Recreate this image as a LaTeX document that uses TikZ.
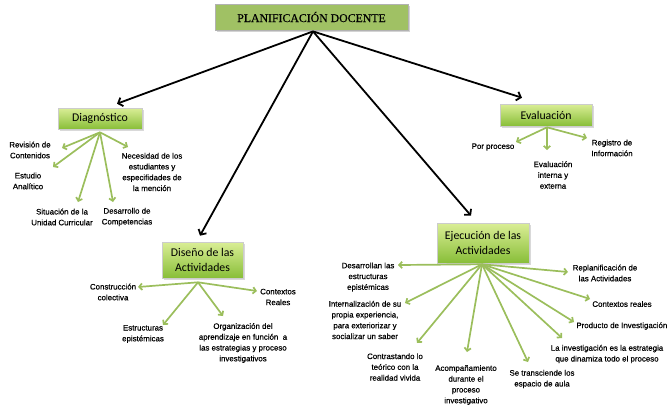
\documentclass[tikz,border=0pt]{standalone}
\usepackage{fontspec}
\setmainfont{Liberation Serif}[FakeBold=0.6]
\newfontfamily\boxfont{Carlito}
\newfontfamily\labfont{Liberation Sans}[FakeBold=0.5]
\usetikzlibrary{arrows.meta,shadows,calc}

\definecolor{leafgreen}{RGB}{155,190,92}
\definecolor{boxtop}{RGB}{218,238,150}
\definecolor{boxbot}{RGB}{136,190,56}
\definecolor{titlefill}{RGB}{160,193,100}

\tikzset{
  titlebox/.style={draw=black!30, line width=0.8pt, fill=titlefill,
    minimum width=193pt, minimum height=26pt, inner sep=0pt,
    font=\fontsize{11.8}{12}\selectfont,
    drop shadow={shadow xshift=1.5pt, shadow yshift=-1.5pt, opacity=0.35}},
  topicbox/.style={draw=white!80!black, line width=0.6pt,
    top color=boxtop, bottom color=boxbot, inner sep=0pt, align=center,
    font=\boxfont\fontsize{11.8}{15}\selectfont,
    drop shadow={shadow xshift=1.5pt, shadow yshift=-1.5pt, opacity=0.3}},
  leaf/.style={align=center, inner sep=0pt,
    font=\labfont\fontsize{7.9}{10.8}\selectfont},
  mainarrow/.style={draw=black, line width=1.8pt,
    -{Straight Barb[length=4pt,width=9pt]}},
  twig/.style={draw=leafgreen, line width=1.7pt,
    -{Straight Barb[length=3pt,width=6.5pt]}}
}

\begin{document}
\begin{tikzpicture}[x=1pt,y=-1pt]
\useasboundingbox (0,0) rectangle (669,410);

% central theme and the four stages
\node[titlebox] (title) at (311.5,17) {PLANIFICACIÓN DOCENTE};
\node[topicbox, minimum width=84pt, minimum height=21pt] (diag) at (100,118.5) {Diagnóstico};
\node[topicbox, minimum width=92pt, minimum height=22pt] (eval) at (546,115) {Evaluación};
\node[topicbox, minimum width=81pt, minimum height=36pt] (dis) at (202.5,260) {Diseño de las\\Actividades};
\node[topicbox, minimum width=92pt, minimum height=40pt] (ejec) at (483,243) {Ejecución de las\\Actividades};

\coordinate (top) at ($(title.south)+(1.5,1)$);
\draw[mainarrow] (top) -- ($(diag.north)+(17,-4)$);
\draw[mainarrow] (top) -- ($(eval.north)+(-24,-6)$);
\draw[mainarrow] (top) -- ($(dis.north)+(-2.5,-6)$);
\draw[mainarrow] (top) -- ($(ejec.north)+(-12,-7)$);

% Diagnóstico
\coordinate (dh) at ($(diag.south)+(0,3)$);
\node[leaf] (d1) at (30,150) {Revisión de\\Contenidos};
\node[leaf] (d2) at (28,181) {Estudio\\Analítico};
\node[leaf] (d3) at (62,217) {Situación de la\\Unidad Curricular};
\node[leaf] (d4) at (127,217) {Desarrollo de\\Competencias};
\node[leaf] (d5) at (152,172) {Necesidad de los\\estudiantes y\\especifidades de\\la mención};
\coordinate (dt1) at (62,148);
\coordinate (dt2) at (53,167);
\coordinate (dt3) at (78,202);
\coordinate (dt4) at (113,202);
\coordinate (dt5) at (128,147);
\foreach \t in {dt1,dt2,dt3,dt4,dt5} \draw[twig] (dh) -- (\t);

% Evaluación
\coordinate (vh) at ($(eval.south)+(1,1)$);
\node[leaf] (v1) at (493,147) {Por proceso};
\node[leaf] (v2) at (553,175) {Evaluación\\interna y\\externa};
\node[leaf] (v3) at (612,148) {Registro de\\Información};
\coordinate (vt1) at (516,142);
\coordinate (vt2) at (547,150);
\coordinate (vt3) at (587,138);
\foreach \t in {vt1,vt2,vt3} \draw[twig] (vh) -- (\t);

% Diseño de las Actividades
\coordinate (sh) at ($(dis.south)+(-4.5,4)$);
\node[leaf] (s1) at (113,292) {Construcción\\colectiva};
\node[leaf] (s2) at (143,334) {Estructuras\\epistémicas};
\node[leaf] (s3) at (278,297) {Contextos\\Reales};
\node[leaf] (s4) at (243,343) {Organización del\\aprendizaje en función~ a\\las estrategias y proceso\\investigativos};
\coordinate (st1) at (138,287);
\coordinate (st2) at (163,325);
\coordinate (st3) at (257,291);
\coordinate (st4) at (223,316);
\foreach \t in {st1,st2,st3,st4} \draw[twig] (sh) -- (\t);

% Ejecución de las Actividades
\coordinate (eh) at ($(ejec.south)+(-1,1)$);
\node[leaf] (e1) at (368,277) {Desarrollan las\\estructuras\\epistémicas};
\node[leaf] (e2) at (365,320) {Internalización de su\\propia experiencia,\\para exteriorizar y\\socializar un saber};
\node[leaf] (e3) at (395,367) {Contrastando lo\\teórico con la\\realidad vivida};
\node[leaf] (e4) at (466,385) {Acompañamiento\\durante el\\proceso\\investigativo};
\node[leaf] (e5) at (542,379) {Se transciende los\\espacio de aula};
\node[leaf] (e6) at (607,354) {La investigación es la estrategia\\que dinamiza todo el proceso};
\node[leaf, anchor=east] (e7) at (667.5,326) {Producto de Investigación};
\node[leaf] (e8) at (622,304) {Contextos reales};
\node[leaf] (e9) at (605,273) {Replanificación de\\las Actividades};
\coordinate (et1) at (398,265);
\coordinate (et2) at (405,303);
\coordinate (et3) at (417,343);
\coordinate (et4) at (467,352);
\coordinate (et5) at (528,362);
\coordinate (et6) at (562,338);
\coordinate (et7) at (574,322);
\coordinate (et8) at (590,299);
\coordinate (et9) at (568,272);
\foreach \t in {et1,et2,et3,et4,et5,et6,et7,et8,et9} \draw[twig] (eh) -- (\t);
\end{tikzpicture}
\end{document}
